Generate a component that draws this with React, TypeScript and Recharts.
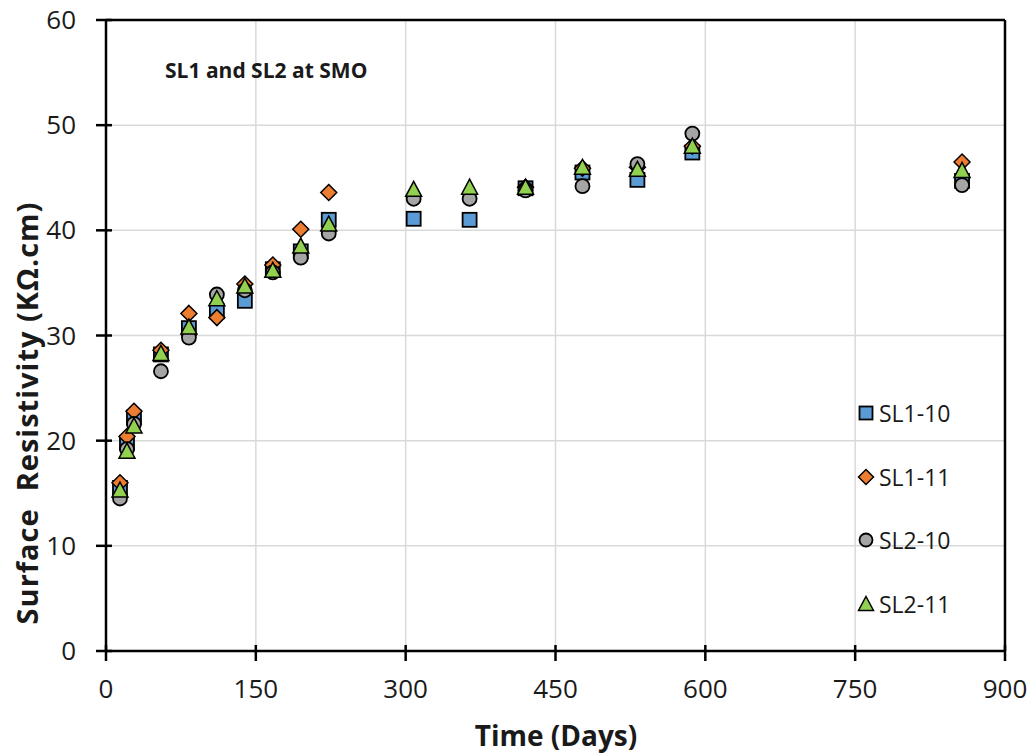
import React from "react";
import {
  ScatterChart,
  Scatter,
  XAxis,
  YAxis,
  CartesianGrid,
  ReferenceLine,
  Legend,
} from "recharts";

// days of measurement
const days = [14, 21, 28, 55, 83, 111, 139, 167, 195, 223, 308, 364, 420, 477, 532, 587, 857];

// surface resistivity (kOhm.cm), null = not measured
const sl1_10 = [15.5, 19.8, 22.2, 28.2, 30.7, 32.3, 33.3, 36.3, 38.0, 41.0, 41.1, 41.0, 44.0, 45.5, 44.8, 47.4, 44.7];
const sl1_11 = [16.0, 20.4, 22.8, 28.6, 32.1, 31.7, 34.9, 36.7, 40.1, 43.6, null, null, 44.1, 45.9, 46.0, 48.0, 46.5];
const sl2_10 = [14.5, 19.2, 21.6, 26.6, 29.8, 33.9, 34.3, 36.0, 37.4, 39.7, 43.0, 43.0, 43.8, 44.2, 46.3, 49.2, 44.3];
const sl2_11 = [15.3, 19.0, 21.4, 28.3, 30.8, 33.5, 34.7, 36.2, 38.5, 40.6, 43.9, 44.1, 44.1, 46.0, 45.8, 48.0, 45.7];

const xTicks = [0, 150, 300, 450, 600, 750, 900];
const yTicks = [0, 10, 20, 30, 40, 50, 60];

const FONT = "'Open Sans', sans-serif";
const INK = "#1a1a1a";

const toPoints = (vals: (number | null)[]) =>
  days
    .map((d, i) => ({ x: d, y: vals[i] }))
    .filter((p) => p.y !== null);

const Square = ({ cx, cy, s = 16 }: any) => (
  <rect x={cx - s / 2 + 1} y={cy - s / 2 + 1} width={s - 2} height={s - 2}
    fill="#5B9BD5" stroke="#000" strokeWidth={1.8} />
);
const Diamond = ({ cx, cy, s = 16 }: any) => {
  const h = s / 2;
  return (
    <polygon points={`${cx},${cy - h} ${cx + h},${cy} ${cx},${cy + h} ${cx - h},${cy}`}
      fill="#ED7D31" stroke="#000" strokeWidth={1.5} />
  );
};
const Circle = ({ cx, cy, s = 16 }: any) => (
  <circle cx={cx} cy={cy} r={s / 2 - 1} fill="#A5A5A5" stroke="#000" strokeWidth={1.8} />
);
const Triangle = ({ cx, cy, s = 16 }: any) => {
  const h = s / 2;
  return (
    <polygon points={`${cx},${cy - h} ${cx + h},${cy + h - 1} ${cx - h},${cy + h - 1}`}
      fill="#92D050" stroke="#000" strokeWidth={1.5} />
  );
};

const series = [
  { name: "SL1-10", vals: sl1_10, Shape: Square },
  { name: "SL1-11", vals: sl1_11, Shape: Diamond },
  { name: "SL2-10", vals: sl2_10, Shape: Circle },
  { name: "SL2-11", vals: sl2_11, Shape: Triangle },
];

const YTick = ({ x, y, payload }: any) => (
  <g>
    <line x1={x - 2} x2={x + 14} y1={y} y2={y} stroke="#000" strokeWidth={2.5} />
    <text x={x - 22} y={y} dy={9} textAnchor="end" fontSize={26} fontFamily={FONT} fill={INK}>
      {payload.value}
    </text>
  </g>
);

const XTick = ({ x, y, payload }: any) => (
  <g>
    <line x1={x} x2={x} y1={y - 14} y2={y + 2} stroke="#000" strokeWidth={2.5} />
    <text x={x} y={y + 39} textAnchor="middle" fontSize={26} fontFamily={FONT} fill={INK}>
      {payload.value}
    </text>
  </g>
);

const renderLegend = () => (
  <div style={{ fontFamily: FONT, fontSize: 23, color: INK }}>
    {series.map(({ name, Shape }) => (
      <div key={name} style={{ height: 63.7, display: "flex", alignItems: "center" }}>
        <svg width={18} height={18} style={{ marginRight: 4 }}>
          <Shape cx={9} cy={9} s={15} />
        </svg>
        <span>{name}</span>
      </div>
    ))}
  </div>
);

export default function App() {
  return (
    <div style={{ position: "absolute", left: 0, top: 0, width: 1034, height: 754, background: "#fff" }}>
      <ScatterChart width={1034} height={754} margin={{ top: 20, right: 29, bottom: 53, left: 46 }}>
        <CartesianGrid stroke="#d9d9d9" strokeWidth={1.5} horizontalValues={yTicks} verticalValues={xTicks} />
        <XAxis
          type="number"
          dataKey="x"
          domain={[0, 900]}
          ticks={xTicks}
          height={50}
          axisLine={{ stroke: "#000", strokeWidth: 2.5 }}
          tickLine={false}
          tick={<XTick />}
          label={{
            content: () => (
              <text x={556} y={746} textAnchor="middle" fontSize={28} fontWeight="bold" fontFamily={FONT} fill={INK}>
                Time (Days)
              </text>
            ),
          }}
        />
        <YAxis
          type="number"
          dataKey="y"
          domain={[0, 60]}
          ticks={yTicks}
          width={60}
          axisLine={{ stroke: "#000", strokeWidth: 2.5 }}
          tickLine={false}
          tick={<YTick />}
          label={{
            content: () => (
              <text x={38} y={413} transform="rotate(-90 38 413)" textAnchor="middle" fontSize={29}
                letterSpacing={1} fontWeight="bold" fontFamily={FONT} fill={INK}>
                {"Surface\u00a0 Resistivity (KΩ.cm)"}
              </text>
            ),
          }}
        />
        <ReferenceLine y={60} stroke="#000" strokeWidth={2.5} />
        <ReferenceLine x={900} stroke="#000" strokeWidth={2.5} />
        {series.map(({ name, vals, Shape }) => (
          <Scatter
            key={name}
            name={name}
            data={toPoints(vals)}
            isAnimationActive={false}
            shape={(p: any) => <Shape cx={p.cx} cy={p.cy} />}
          />
        ))}
        <Legend
          layout="vertical"
          align="center"
          verticalAlign="middle"
          content={renderLegend}
          wrapperStyle={{ left: 857, top: 381, width: 150 }}
        />
      </ScatterChart>
      <div
        style={{
          position: "absolute",
          left: 165,
          top: 56,
          fontFamily: FONT,
          fontWeight: "bold",
          fontSize: 21,
          color: INK,
        }}
      >
        SL1 and SL2 at SMO
      </div>
    </div>
  );
}
